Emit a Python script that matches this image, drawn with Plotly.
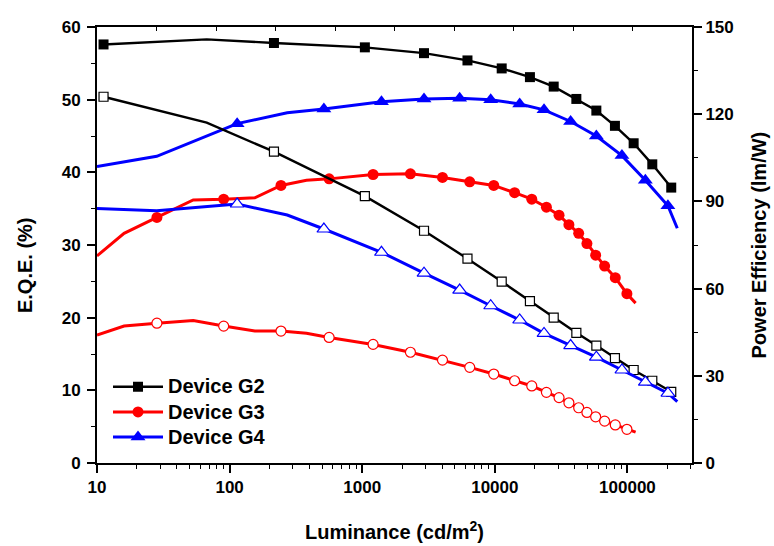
import plotly.graph_objects as go

# ---------------- data ----------------
g2_lum = [11.2, 67.2, 216, 1047, 2925, 6220, 11270, 18400, 27800, 41200, 58300, 80500, 111400, 154000, 214000]
g2_eqe = [57.6, 58.3, 57.8, 57.2, 56.4, 55.4, 54.3, 53.1, 51.8, 50.1, 48.5, 46.4, 44.0, 41.1, 37.9]
g2_pe = [126.0, 117.1, 107.1, 91.8, 79.9, 70.3, 62.4, 55.7, 50.0, 44.8, 40.4, 36.1, 32.0, 28.3, 24.5]
g2_marked = [True, False, True, True, True, True, True, True, True, True, True, True, True, True, True]

g3_lum = [10, 16, 28.3, 53.2, 90.2, 155, 244, 380, 563, 1208, 2310, 4030, 6470, 9820, 14100,
          19000, 24500, 30500, 36200, 42900, 49500, 57600, 67300, 81000, 99100, 115300]
g3_eqe = [28.5, 31.6, 33.8, 36.2, 36.3, 36.5, 38.2, 38.9, 39.1, 39.7, 39.8, 39.3, 38.7, 38.2, 37.2,
          36.3, 35.2, 34.1, 32.8, 31.6, 30.2, 28.6, 27.1, 25.5, 23.3, 22.0]
g3_pe = [44.0, 47.1, 48.1, 49.0, 47.1, 45.4, 45.4, 44.6, 43.2, 40.8, 38.1, 35.4, 32.9, 30.6, 28.3,
         26.5, 24.3, 22.5, 20.7, 19.0, 17.4, 15.9, 14.4, 13.1, 11.6, 10.6]
g3_marked = [False, False, True, False, True, False, True, False, True, True, True, True, True, True, True,
             True, True, True, True, True, True, True, True, True, True, False]

g4_lum = [10, 28.2, 114, 272, 514, 1397, 2925, 5430, 9310, 15400, 23500, 37300, 58300, 90900, 136500, 202000, 237700]
g4_eqe = [40.8, 42.2, 46.7, 48.2, 48.7, 49.7, 50.1, 50.2, 50.0, 49.4, 48.6, 47.0, 45.0, 42.3, 38.9, 35.4, 32.3]
g4_pe = [87.6, 86.8, 89.1, 85.3, 80.5, 72.5, 65.3, 59.5, 54.1, 49.2, 44.6, 40.4, 36.4, 32.0, 27.8, 24.0, 21.1]
g4_marked = [False, False, True, False, True, True, True, True, True, True, True, True, True, True, True, True, False]

devices = ["Device G2", "Device G3", "Device G4"]
x_tickvals = [10, 100, 1000, 10000, 100000]
x_ticktext = ["10", "100", "1000", "10000", "100000"]

# ---------------- style ----------------
FONT = "Liberation Sans, Arial, sans-serif"
BLACK, RED, BLUE = "#000000", "#ff0000", "#0000ff"

series = [
    (devices[0], g2_lum, g2_eqe, g2_pe, g2_marked, BLACK, "square", 10, 9, 2.4),
    (devices[1], g3_lum, g3_eqe, g3_pe, g3_marked, RED, "circle", 11, 10, 3),
    (devices[2], g4_lum, g4_eqe, g4_pe, g4_marked, BLUE, "triangle-up", 13, 12, 3),
]

fig = go.Figure()

for name, lum, eqe, pe, marked, color, sym, msize, osize, lw in series:
    mx = [l for l, m in zip(lum, marked) if m]
    me = [v for v, m in zip(eqe, marked) if m]
    mp = [v for v, m in zip(pe, marked) if m]
    # EQE (left axis), filled markers
    fig.add_trace(go.Scatter(x=lum, y=eqe, mode="lines", line=dict(color=color, width=lw),
                             showlegend=False, hoverinfo="skip", xaxis="x", yaxis="y"))
    fig.add_trace(go.Scatter(x=mx, y=me, mode="markers",
                             marker=dict(symbol=sym, size=msize, color=color, line=dict(width=0)),
                             showlegend=False, xaxis="x", yaxis="y"))
    # Power efficiency (right axis), open markers
    fig.add_trace(go.Scatter(x=lum, y=pe, mode="lines", line=dict(color=color, width=lw),
                             showlegend=False, hoverinfo="skip", xaxis="x", yaxis="y2"))
    fig.add_trace(go.Scatter(x=mx, y=mp, mode="markers",
                             marker=dict(symbol=sym, size=osize, color="white", line=dict(width=1.2, color=color)),
                             showlegend=False, xaxis="x", yaxis="y2"))

# legend entries
for name, lum, eqe, pe, marked, color, sym, msize, osize, lw in series:
    fig.add_trace(go.Scatter(x=[None], y=[None], mode="lines+markers",
                             name="<span style='font-size:20px'>" + name + "</span>",
                             line=dict(color=color, width=lw),
                             marker=dict(symbol=sym, size=msize, color=color, line=dict(width=0)),
                             xaxis="x", yaxis="y"))

# dummy trace for the top (linear) frame axis
fig.add_trace(go.Scatter(x=[None], y=[None], xaxis="x2", yaxis="y", showlegend=False, hoverinfo="skip"))

tickfont = dict(family=FONT, size=17, color="black", weight="bold")

fig.update_layout(
    width=774, height=546,
    margin=dict(l=97, r=81.5, t=27, b=83),
    paper_bgcolor="white", plot_bgcolor="white",
    font=dict(family=FONT, color="black"),
    xaxis=dict(
        type="log", range=[1, 5.487], tickvals=x_tickvals, ticktext=x_ticktext,
        ticks="outside", ticklen=8, tickwidth=1.5, tickcolor="black",
        minor=dict(ticks="outside", ticklen=4, tickwidth=1.2, tickcolor="black", dtick="D1", showgrid=False),
        showline=True, linewidth=2, linecolor="black", showgrid=False, zeroline=False,
        tickfont=tickfont, anchor="y",
    ),
    xaxis2=dict(
        overlaying="x", side="top", range=[0, 10], dtick=1, ticks="inside", ticklen=4, tickwidth=1,
        tickcolor="black", showticklabels=False, showline=True, linewidth=2, linecolor="black",
        showgrid=False, zeroline=False, anchor="y",
    ),
    yaxis=dict(
        range=[0, 60], dtick=10, ticks="outside", ticklen=8, tickwidth=1.5, tickcolor="black",
        minor=dict(ticks="outside", ticklen=4, tickwidth=1.2, tickcolor="black", dtick=5, showgrid=False),
        showline=True, linewidth=2, linecolor="black", showgrid=False, zeroline=False,
        tickfont=tickfont, ticklabelstandoff=3,
    ),
    yaxis2=dict(
        overlaying="y", side="right", range=[0, 150], dtick=30, ticks="outside", ticklen=8, tickwidth=1.5,
        tickcolor="black",
        minor=dict(ticks="outside", ticklen=4, tickwidth=1.2, tickcolor="black", dtick=15, showgrid=False),
        showline=True, linewidth=2, linecolor="black", showgrid=False, zeroline=False,
        tickfont=tickfont, ticklabelstandoff=0,
    ),
    legend=dict(
        x=0.0185, y=0.215, xanchor="left", yanchor="top", bgcolor="rgba(0,0,0,0)",
        font=dict(family=FONT, size=17, color="black", weight="bold"),
        itemwidth=50, tracegroupgap=0,
    ),
    annotations=[
        dict(text="Luminance (cd/m<sup>2</sup>)", xref="paper", yref="paper", x=0.5, y=-0.1537,
             xanchor="center", yanchor="middle", showarrow=False,
             font=dict(family=FONT, size=20, color="black", weight="bold")),
        dict(text="E.Q.E. (%)", xref="paper", yref="paper", x=-0.121, y=0.454, textangle=-90,
             xanchor="center", yanchor="middle", showarrow=False,
             font=dict(family=FONT, size=20, color="black", weight="bold")),
        dict(text="Power Efficiency (lm/W)", xref="paper", yref="paper", x=1.1134, y=0.5, textangle=-90,
             xanchor="center", yanchor="middle", showarrow=False,
             font=dict(family=FONT, size=20, color="black", weight="bold")),
    ],
)

fig.write_html("out.html")
